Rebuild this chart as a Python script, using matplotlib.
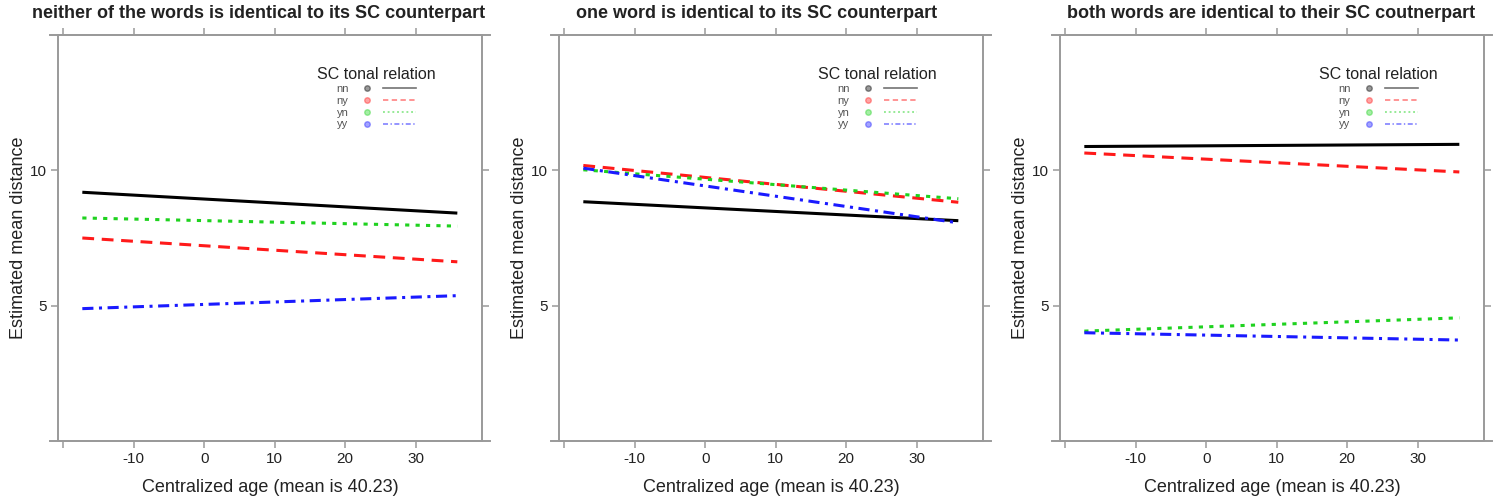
import matplotlib
matplotlib.use("Agg")
import matplotlib.pyplot as plt
from matplotlib.lines import Line2D
from matplotlib.legend_handler import HandlerTuple

plt.rcParams['font.family'] = ['Liberation Sans', 'DejaVu Sans']

# ---- data ----
panel_titles = [
    "neither of the words is identical to its SC counterpart",
    "one word is identical to its SC counterpart",
    "both words are identical to their SC coutnerpart",
]
relations = ["nn", "ny", "yn", "yy"]
age_range = [-17.3, 35.9]

p1_nn = [9.19, 8.42]
p1_ny = [7.50, 6.62]
p1_yn = [8.24, 7.94]
p1_yy = [4.89, 5.37]

p2_nn = [8.84, 8.14]
p2_ny = [10.18, 8.82]
p2_yn = [10.02, 8.95]
p2_yy = [10.08, 8.06]

p3_nn = [10.88, 10.96]
p3_ny = [10.64, 9.94]
p3_yn = [4.06, 4.55]
p3_yy = [4.00, 3.73]

panels = [
    [p1_nn, p1_ny, p1_yn, p1_yy],
    [p2_nn, p2_ny, p2_yn, p2_yy],
    [p3_nn, p3_ny, p3_yn, p3_yy],
]
x_ticks = [-20, -10, 0, 10, 20, 30]
x_ticklabels = ["", "-10", "0", "10", "20", "30"]
y_ticks = [5, 10]
y_ticklabels = ["5", "10"]
x_label = "Centralized age (mean is 40.23)"
y_label = "Estimated mean distance"
legend_title = "SC tonal relation"

# ---- styles ----
colors = ["#000000", "#ff1a1a", "#1fd21f", "#1a1aff"]
lw = 2.2
styles = [
    "-",
    (0, (8.5 / lw, 5.5 / lw)),
    (0, (3.0 / lw, 4.5 / lw)),
    (0, (8.0 / lw, 4.0 / lw, 2.2 / lw, 4.0 / lw)),
]
frame_col = "#9a9a9a"
text_col = "#222222"

W, H = 1498, 496
fig = plt.figure(figsize=(W / 100, H / 100), dpi=100)
lefts = [58, 559, 1060]
title_x = [0.472, 0.467, 0.498]
box_w, box_top, box_bot = 424, 35, 441

for i, (left, series) in enumerate(zip(lefts, panels)):
    ax = fig.add_axes([left / W, (H - box_bot) / H, box_w / W, (box_bot - box_top) / H])
    for vals, col, ls in zip(series, colors, styles):
        ax.plot(age_range, vals, color=col, lw=lw, linestyle=ls, solid_capstyle='butt',
                dash_capstyle='butt')
    ax.set_xlim(-20.75, 39.4)
    ax.set_ylim(0, 15)
    ax.set_xticks(x_ticks)
    ax.set_xticklabels(x_ticklabels)
    ax.set_yticks(y_ticks)
    ax.set_yticklabels(y_ticklabels)
    ax.tick_params(direction='out', length=5, width=1.1, color=frame_col,
                   labelsize=11, labelcolor=text_col, top=True, right=True,
                   pad=3)
    for sp in ax.spines.values():
        sp.set_color(frame_col)
        sp.set_linewidth(1.4)
    # lattice-style extended horizontal frame lines
    for yy in (0, 1):
        ax.plot([-0.02, 1.02], [yy, yy], transform=ax.transAxes, color=frame_col,
                lw=1.4, clip_on=False)
    ax.set_xlabel(x_label, fontsize=13, color=text_col, labelpad=9)
    ax.set_ylabel(y_label, fontsize=13, color=text_col, labelpad=2)
    ax.set_title(panel_titles[i], fontsize=13, fontweight='bold', color=text_col,
                 pad=12, x=title_x[i])

    handles = []
    for col, ls in zip(colors, styles):
        pt = Line2D([], [], marker='o', linestyle='none', markersize=4,
                    markerfacecolor=col, markeredgecolor=col, alpha=0.4)
        ln = Line2D([], [], color=col, lw=1.2, linestyle=ls if ls == "-" else
                    (0, tuple(v * lw / 1.2 * 0.45 for v in ls[1])), alpha=0.55)
        handles.append((pt, ln))
    leg = ax.legend(handles, relations, title=legend_title, markerfirst=False,
                    frameon=False, fontsize=8, title_fontsize=11.5,
                    handler_map={tuple: HandlerTuple(ndivide=None, pad=0.0)},
                    handlelength=5.9, handletextpad=0.15, labelspacing=0.16,
                    loc='upper center', bbox_to_anchor=(0.75, 0.945))
    for t in leg.get_texts():
        t.set_color("#555555")
    leg.get_title().set_color(text_col)

fig.savefig("out.png", dpi=100)
